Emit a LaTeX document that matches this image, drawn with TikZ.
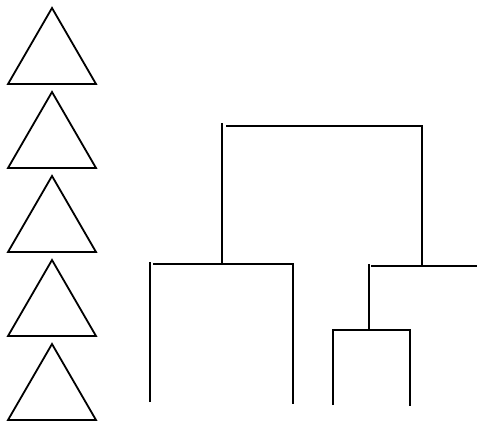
\documentclass[tikz,border=0pt]{standalone}
\usepackage{tikz}

\begin{document}
\begin{tikzpicture}[x=1pt, y=-1pt, line width=1.8pt]
    % Frame
    \useasboundingbox (0,0) rectangle (477,423);
    % Triangles
    \foreach \y in {8,92,...,344} {
      \draw[line join=miter] (52,\y) -- (96,\y+76) -- (8,\y+76) -- cycle;
    }
    % Leaves
    \coordinate (a) at (150,402);
    \coordinate (b) at (293,404);
    \coordinate (c) at (333,405);
    \coordinate (d) at (410,406);
    % Merge points
    \coordinate (ab) at (222,264);
    \coordinate (cd) at (369,330);
    \coordinate (cde) at (422,266);
    \coordinate (root) at (322,126);
    % Lower clusters
    \draw (a) -- (a |- 0,262);
    \draw (a |- ab) ++(3,0) -- (b |- ab) -- (b);
    \draw (c) -- (c |- cd) -- (d |- cd) -- (d);
    \draw (cd) -- (cd |- 0,264);
    \draw (cd |- cde) ++(2,0) -- (477,266);
    % Top cluster
    \draw (ab) -- (ab |- 0,123);
    \draw (ab |- root) ++(4,0) -- (cde |- root) -- (cde);
\end{tikzpicture}
\end{document}
